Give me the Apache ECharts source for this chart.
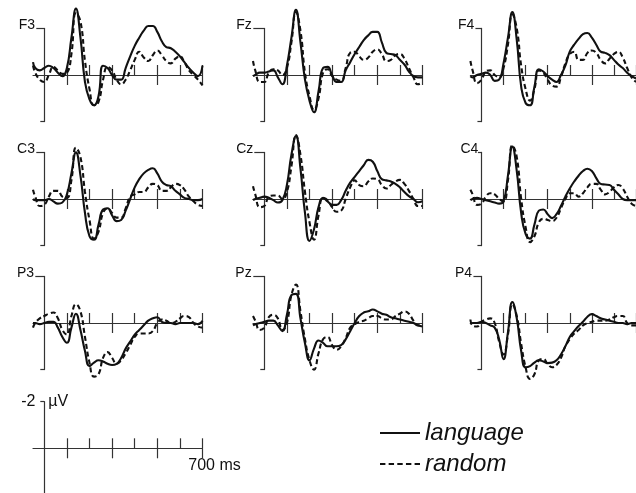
<!DOCTYPE html>
<html><head><meta charset="utf-8">
<script src="https://cdn.jsdelivr.net/npm/echarts@6/dist/echarts.min.js"></script>
<style>html,body{margin:0;padding:0;background:#fff}#c{width:636px;height:493px}</style>
</head><body><div id="c"></div>
<script>
// ---- data (µV, negative plotted up) ----
const times = [-50,-40,-20,0,20,40,60,80,100,120,140,160,180,200,220,240,260,280,300,320,340,360,380,400,420,440,460,480,500,520,540,560,580,600,620,640,660,680,700];
const xTicks = [100,200,300,400,500,600,700];
const xLongTicks = [100,300,500,700];
const electrodes = ['F3','Fz','F4','C3','Cz','C4','P3','Pz','P4'];
const conditions = ['language','random'];
const scaleLabels = {amp:'-2', unit:'µV', time:'700 ms'};

const F3_language = [-0.55,-0.3,-0.2,-0.3,-0.4,-0.3,-0.1,0.05,-0.3,-1.6,-2.85,-1.6,0.3,1.05,1.3,0.9,-0.4,-0.3,0.0,0.2,0.2,-0.3,-0.8,-1.25,-1.6,-1.9,-2.1,-2.1,-1.85,-1.45,-1.2,-1.15,-1.0,-0.8,-0.55,-0.3,-0.1,0.05,-0.4];
const F3_random   = [-0.4,-0.1,0.2,0.3,0.0,-0.35,-0.2,-0.05,-0.1,-0.9,-2.65,-2.3,-0.6,0.6,1.3,1.15,0.2,-0.35,-0.2,0.2,0.4,0.2,-0.2,-0.65,-1.0,-0.75,-0.6,-0.85,-1.05,-0.85,-0.6,-0.5,-0.7,-0.8,-0.55,-0.2,0.0,0.2,0.45];
const Fz_language = [0.05,0.0,-0.1,-0.1,-0.15,-0.2,0.1,0.4,-0.4,-1.6,-2.8,-1.4,0.2,1.1,1.6,0.7,-0.3,-0.35,0.0,0.3,0.3,-0.2,-0.55,-0.9,-1.2,-1.5,-1.7,-1.85,-1.85,-1.4,-0.95,-0.9,-0.85,-0.65,-0.45,-0.15,0.05,0.1,0.1];
const Fz_random   = [-0.6,-0.2,0.3,0.3,-0.1,-0.25,-0.2,0.0,-0.3,-1.4,-2.7,-1.9,-0.1,0.9,1.5,1.0,-0.1,-0.25,0.05,0.2,0.25,-0.3,-0.95,-1.0,-0.8,-0.65,-0.75,-1.0,-1.1,-0.9,-0.6,-0.65,-0.85,-0.9,-0.7,-0.3,0.1,0.4,0.3];
const F4_language = [0.05,0.1,0.0,-0.05,-0.1,0.0,0.25,0.2,-0.5,-1.6,-2.7,-1.5,0.5,1.2,1.3,0.5,-0.25,-0.15,0.05,0.2,0.3,0.0,-0.4,-1.0,-1.3,-1.55,-1.75,-1.8,-1.6,-1.3,-1.0,-0.95,-0.85,-0.65,-0.45,-0.3,-0.1,0.05,0.15];
const F4_random   = [-0.6,-0.2,0.35,0.2,-0.15,-0.2,0.0,0.1,-0.3,-1.3,-2.6,-2.0,-0.4,0.6,1.1,0.6,-0.2,-0.1,0.2,0.45,0.5,0.1,-0.5,-0.9,-1.0,-0.65,-0.65,-0.95,-1.05,-0.95,-0.65,-0.5,-0.7,-0.9,-1.0,-0.75,-0.3,0.1,0.3];
const C3_language = [0.0,0.05,0.05,0.05,0.0,0.1,0.2,0.15,-0.2,-1.1,-2.0,-1.0,0.6,1.6,1.75,1.1,0.45,0.4,0.7,0.95,0.9,0.5,0.0,-0.5,-0.85,-1.1,-1.25,-1.32,-1.1,-0.75,-0.6,-0.55,-0.35,-0.2,-0.05,0.0,0.05,0.05,0.0];
const C3_random   = [-0.4,-0.1,0.3,0.25,-0.1,-0.35,-0.35,-0.1,-0.05,-0.8,-2.2,-1.8,-0.3,0.9,1.7,1.4,0.6,0.4,0.6,0.8,0.8,0.4,-0.1,-0.2,-0.3,-0.3,-0.5,-0.65,-0.6,-0.35,-0.35,-0.5,-0.65,-0.6,-0.4,-0.1,0.1,0.25,0.3];
const Cz_language = [0.05,0.0,-0.05,-0.1,-0.05,0.05,0.15,0.05,-0.6,-1.9,-2.7,-1.3,0.6,1.8,1.3,0.35,-0.05,0.1,0.25,0.25,0.05,-0.35,-0.7,-0.95,-1.2,-1.45,-1.68,-1.6,-1.2,-0.85,-0.8,-0.75,-0.65,-0.5,-0.3,-0.12,0.0,0.14,0.1];
const Cz_random   = [-0.55,-0.2,0.35,0.3,-0.1,-0.15,-0.15,0.0,-0.3,-1.4,-2.75,-1.9,-0.3,1.0,1.75,0.7,-0.05,0.05,0.35,0.55,0.5,0.0,-0.5,-0.8,-0.6,-0.55,-0.75,-0.88,-0.85,-0.6,-0.45,-0.6,-0.75,-0.82,-0.65,-0.35,0.0,0.3,0.3];
const C4_language = [0.05,0.0,-0.05,0.0,0.05,0.1,0.15,0.2,0.1,-1.0,-2.25,-1.2,0.6,1.5,1.7,1.1,0.5,0.45,0.65,0.82,0.65,0.3,-0.1,-0.45,-0.75,-1.0,-1.2,-1.3,-1.2,-0.9,-0.65,-0.62,-0.6,-0.4,-0.2,0.0,0.05,0.05,0.05];
const C4_random   = [-0.4,-0.2,0.25,0.2,-0.1,-0.25,-0.2,0.0,0.1,-0.8,-2.3,-1.8,0.0,1.2,1.85,1.6,1.0,0.85,0.9,0.95,0.8,0.4,0.0,-0.25,-0.25,-0.1,-0.25,-0.5,-0.65,-0.65,-0.4,-0.2,-0.3,-0.5,-0.6,-0.45,-0.1,0.2,0.3];
const P3_language = [0.0,0.0,0.05,0.0,-0.05,-0.05,0.2,0.6,0.85,0.2,-0.4,0.3,1.2,1.85,1.7,1.6,1.65,1.75,1.8,1.75,1.5,1.1,0.8,0.5,0.3,0.1,-0.1,-0.2,-0.25,-0.05,0.0,0.0,0.05,0.0,0.0,0.0,0.0,0.05,-0.1];
const P3_random   = [0.2,0.0,-0.2,-0.3,-0.4,-0.45,-0.2,0.3,0.5,-0.3,-0.8,-0.5,0.6,1.7,2.3,2.2,1.5,1.25,1.5,1.75,1.6,1.3,0.95,0.6,0.45,0.45,0.45,0.35,0.0,-0.15,-0.1,0.0,-0.05,-0.2,-0.3,-0.25,0.0,0.15,0.2];
const Pz_language = [0.1,0.05,0.0,-0.05,-0.1,-0.1,0.1,0.35,-0.35,-1.2,-1.25,-0.2,0.87,1.6,1.1,0.75,0.85,1.0,1.0,1.0,0.95,0.7,0.35,0.0,-0.3,-0.45,-0.5,-0.58,-0.5,-0.4,-0.35,-0.25,-0.2,-0.15,-0.1,-0.05,0.0,0.1,0.15];
const Pz_random   = [-0.3,-0.1,0.3,0.2,-0.25,-0.35,-0.2,0.3,0.0,-1.2,-1.65,-0.5,0.7,1.6,2.0,1.3,0.7,0.6,0.95,1.15,1.0,0.65,0.2,0.05,-0.05,-0.1,-0.2,-0.3,-0.3,-0.2,-0.15,-0.15,-0.3,-0.4,-0.5,-0.4,-0.1,0.1,0.05];
const P4_language = [0.05,0.0,0.0,-0.05,0.0,0.1,0.2,0.7,1.55,0.4,-0.9,-0.2,1.2,1.9,1.85,1.7,1.6,1.65,1.72,1.7,1.6,1.35,1.0,0.6,0.35,0.13,-0.05,-0.27,-0.38,-0.3,-0.2,-0.15,-0.1,-0.05,0.0,0.0,0.05,0.0,0.0];
const P4_random   = [-0.15,0.1,0.15,-0.05,-0.15,-0.2,0.0,0.8,1.35,0.5,-0.8,-0.3,0.9,1.9,2.4,2.2,1.6,1.55,1.75,1.9,1.8,1.5,1.0,0.7,0.45,0.3,0.1,0.0,-0.05,-0.1,-0.1,-0.1,-0.15,-0.25,-0.3,-0.3,0.0,0.1,0.1];

const languageByElectrode = {F3:F3_language,Fz:Fz_language,F4:F4_language,C3:C3_language,Cz:Cz_language,C4:C4_language,P3:P3_language,Pz:Pz_language,P4:P4_language};
const randomByElectrode   = {F3:F3_random,Fz:Fz_random,F4:F4_random,C3:C3_random,Cz:Cz_random,C4:C4_random,P3:P3_random,Pz:Pz_random,P4:P4_random};

// ---- layout ----
const FONT = "'Liberation Sans', Arial, Helvetica, sans-serif";
const INK = '#111';
const colAxisX = [44.3, 264.3, 481.7];
const rowBaseY = [75, 199, 323];
const pxPerMs = 0.226, halfH = 46.6, tickLen = 10;
const labelRight = [35, 251.7, 474.3, 35, 253.3, 478.3, 34, 251.7, 472];
const topTickLen = [8, 11, 6, 8, 10, 3.5, 9, 11, 8];
const axisStyle = {color:'#333', width:1.2};
const hiddenLine = {color:'#333', width:1.2, opacity:0};

const grids = [], xAxes = [], yAxes = [], series = [], graphics = [];

function plainY(gi) {
  return {type:'value', gridIndex:gi, min:0, max:1, show:true,
    axisLine:{show:false}, axisTick:{show:false}, axisLabel:{show:false}, splitLine:{show:false}};
}

function addPanel(ax, base, topLen, bottomTick) {
  const left = ax - 50*pxPerMs, width = 750*pxPerMs;
  // main data grid
  const gMain = grids.length;
  grids.push({left, top: base - halfH, width, height: 2*halfH});
  const xi = xAxes.length;
  xAxes.push({type:'value', gridIndex:gMain, position:'bottom', min:-50, max:700,
    axisLine:{show:false, onZero:false}, axisTick:{show:false}, axisLabel:{show:false}, splitLine:{show:false}});
  const yi = yAxes.length;
  const yBase = {type:'value', gridIndex:gMain, position:'left', min:-2, max:2, inverse:true,
    splitLine:{show:false}, axisLabel:{show:false}};
  yAxes.push(Object.assign({}, yBase, {
    axisLine:{show:true, onZero:true, onZeroAxisIndex:xi, lineStyle:axisStyle},
    axisTick:{show:true, length:topLen, customValues:[-2], lineStyle:axisStyle}}));
  yAxes.push(Object.assign({}, yBase, {
    axisLine:{show:true, onZero:true, onZeroAxisIndex:xi, lineStyle:hiddenLine},
    axisTick:{show:bottomTick, length:4, customValues:[2], lineStyle:axisStyle}}));
  // baseline with upward ticks: grid hanging below the baseline, axis on its top edge
  const gUp = grids.length;
  grids.push({left, top: base, width, height: tickLen});
  xAxes.push({type:'value', gridIndex:gUp, position:'top', min:-50, max:700,
    axisLine:{show:true, onZero:false, lineStyle:axisStyle},
    axisTick:{show:true, length:tickLen, customValues:xTicks, lineStyle:axisStyle},
    axisLabel:{show:false}, splitLine:{show:false}});
  yAxes.push(plainY(gUp));
  // downward half of the long ticks: grid above the baseline, axis on its bottom edge
  const gDown = grids.length;
  grids.push({left, top: base - tickLen, width, height: tickLen});
  xAxes.push({type:'value', gridIndex:gDown, position:'bottom', min:-50, max:700,
    axisLine:{show:true, onZero:false, lineStyle:hiddenLine},
    axisTick:{show:true, length:tickLen, customValues:xLongTicks, lineStyle:axisStyle},
    axisLabel:{show:false}, splitLine:{show:false}});
  yAxes.push(plainY(gDown));
  return {xi, yi};
}

function text(str, x, y, align, size, style) {
  graphics.push({type:'text', x:x, y:y, silent:true,
    style:{text:str, align:align, verticalAlign:'middle', textAlign:align, textVerticalAlign:'middle',
      font:(style||'normal')+' '+size+'px '+FONT, fill:INK}});
}

electrodes.forEach((el, i) => {
  const c = i % 3, r = Math.floor(i / 3);
  const ax = colAxisX[c], base = rowBaseY[r];
  const {xi, yi} = addPanel(ax, base, topTickLen[i], true);
  text(el, labelRight[i], base - halfH - 3, 'right', 14);
  const mk = (name, vals, dashed) => ({
    type:'line', name:name, xAxisIndex:xi, yAxisIndex:yi,
    data: times.map((t, k) => [t, vals[k]]),
    smooth:0.5, symbol:'none', showSymbol:false, clip:false, silent:true, animation:false,
    lineStyle:{color:INK, width:2.1, type: dashed ? [5,3] : 'solid'}, itemStyle:{color:INK}
  });
  series.push(mk(conditions[1], randomByElectrode[el], true));
  series.push(mk(conditions[0], languageByElectrode[el], false));
});

// scale bar panel (no data)
const sbAx = 44.3, sbBase = 448.3;
const sb = addPanel(sbAx, sbBase, 4, false);
series.push({type:'line', xAxisIndex:sb.xi, yAxisIndex:sb.yi, data:[], silent:true});
text(scaleLabels.amp, 35.5, sbBase - halfH, 'right', 16);
text(scaleLabels.unit, 48.3, sbBase - halfH, 'left', 16);
text(scaleLabels.time, 188.3, 465.5, 'left', 16);

const solidIcon = 'path://M0,0H40V2H0Z';
const dashedIcon = 'path://M0,0H5V2H0Z M8,0H13V2H8Z M16,0H21V2H16Z M24,0H29V2H24Z M32,0H37V2H32Z';

const chart = echarts.init(document.getElementById('c'), null, {renderer:'canvas'});
chart.setOption({
  animation:false,
  backgroundColor:'#fff',
  grid: grids, xAxis: xAxes, yAxis: yAxes, series: series,
  legend: {
    left:375, top:416, orient:'vertical', selectedMode:false,
    itemWidth:40, itemHeight:2.2, itemGap:7,
    itemStyle:{borderWidth:0},
    data:[{name:conditions[0], icon:solidIcon}, {name:conditions[1], icon:dashedIcon}],
    textStyle:{fontFamily:FONT, fontSize:24, fontStyle:'italic', color:INK, lineHeight:24}
  },
  graphic: graphics
});
</script></body></html>
